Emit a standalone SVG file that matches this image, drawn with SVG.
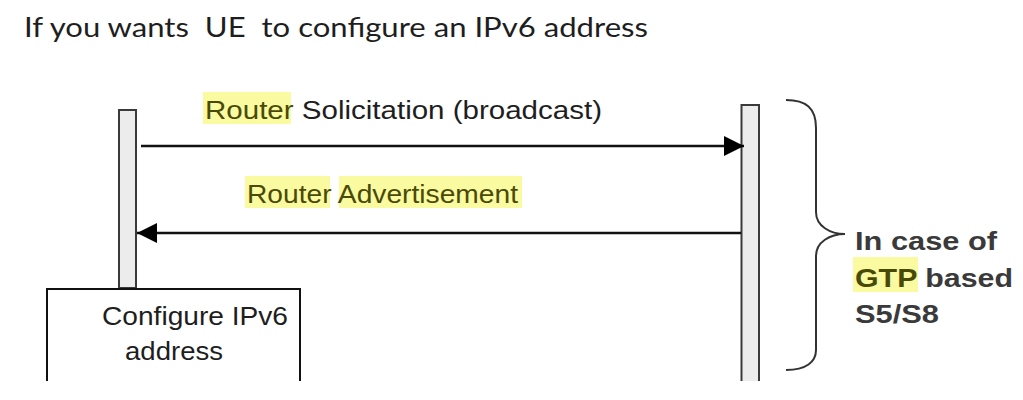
<svg xmlns="http://www.w3.org/2000/svg" width="1023" height="400" viewBox="0 0 1023 400">
  <style>
    .title { font-family: Lato, "Open Sans", sans-serif; font-size: 27px; fill: #1e1e1e; white-space: pre; }
    .msg { font-family: "Liberation Sans", Arial, sans-serif; font-size: 25px; fill: #1e1e1e; }
    .hl { fill: #fafaa0; }
    .hltext { fill: #4a4a08; }
    .bar { fill: #ececec; stroke: #3a3a3a; stroke-width: 2; }
    .note { font-family: "Liberation Sans", Arial, sans-serif; font-size: 26px; font-weight: bold; fill: #3a3a3a; }
    .conn { stroke: #111; stroke-width: 2.5; fill: none; }
    .brace { stroke: #333; stroke-width: 2; fill: none; }
  </style>
  <defs>
    <marker id="ah" viewBox="0 0 20 20" refX="20" refY="10" markerWidth="20" markerHeight="20" markerUnits="userSpaceOnUse" orient="auto">
      <path d="M0,0 L20,10 L0,20 z" fill="#000"/>
    </marker>
  </defs>
  <rect width="1023" height="400" fill="#fff"/>

  <g id="title">
    <text class="title" x="24" y="37" textLength="624" lengthAdjust="spacingAndGlyphs">If you wants  UE  to configure an IPv6 address</text>
  </g>

  <g id="ue-lifeline">
    <rect class="bar" x="119" y="110" width="17" height="178"/>
  </g>

  <g id="pgw-lifeline">
    <path class="bar" d="M741.5,381 L741.5,105 L759,105 L759,381"/>
  </g>

  <g id="configure-box">
    <path d="M47,381 L47,289 L300,289 L300,381" fill="#fff" stroke="#111" stroke-width="2"/>
    <text class="msg" x="102" y="325" textLength="186" lengthAdjust="spacingAndGlyphs">Configure IPv6</text>
    <text class="msg" x="125" y="360" textLength="98" lengthAdjust="spacingAndGlyphs">address</text>
  </g>

  <g id="labels">
    <rect class="hl" x="203" y="92" width="88" height="32"/>
    <text class="msg" x="205" y="119" textLength="397" lengthAdjust="spacingAndGlyphs"><tspan class="hltext">Router</tspan> Solicitation (broadcast)</text>
    <rect class="hl" x="245" y="176" width="85" height="32"/>
    <rect class="hl" x="339" y="176" width="183" height="32"/>
    <text class="msg hltext" x="247" y="203" textLength="271" lengthAdjust="spacingAndGlyphs">Router Advertisement</text>
  </g>

  <g id="connectors">
    <line class="conn" x1="141" y1="146" x2="744" y2="146" marker-end="url(#ah)"/>
    <line class="conn" x1="741" y1="233" x2="137" y2="233" marker-end="url(#ah)"/>
  </g>

  <g id="gtp-note">
    <path class="brace" d="M786,100 C806,100 816,108 816,128 L816,212 C816,226 830,234 845,234 C830,234 816,242 816,256 L816,350 C816,362 806,370 786,370"/>
    <rect class="hl" x="853" y="257" width="65" height="35"/>
    <text class="note" x="855" y="250" textLength="142" lengthAdjust="spacingAndGlyphs">In case of</text>
    <text class="note" x="855" y="287" textLength="158" lengthAdjust="spacingAndGlyphs"><tspan class="hltext">GTP</tspan> based</text>
    <text class="note" x="855" y="323" textLength="84" lengthAdjust="spacingAndGlyphs">S5/S8</text>
  </g>
</svg>
